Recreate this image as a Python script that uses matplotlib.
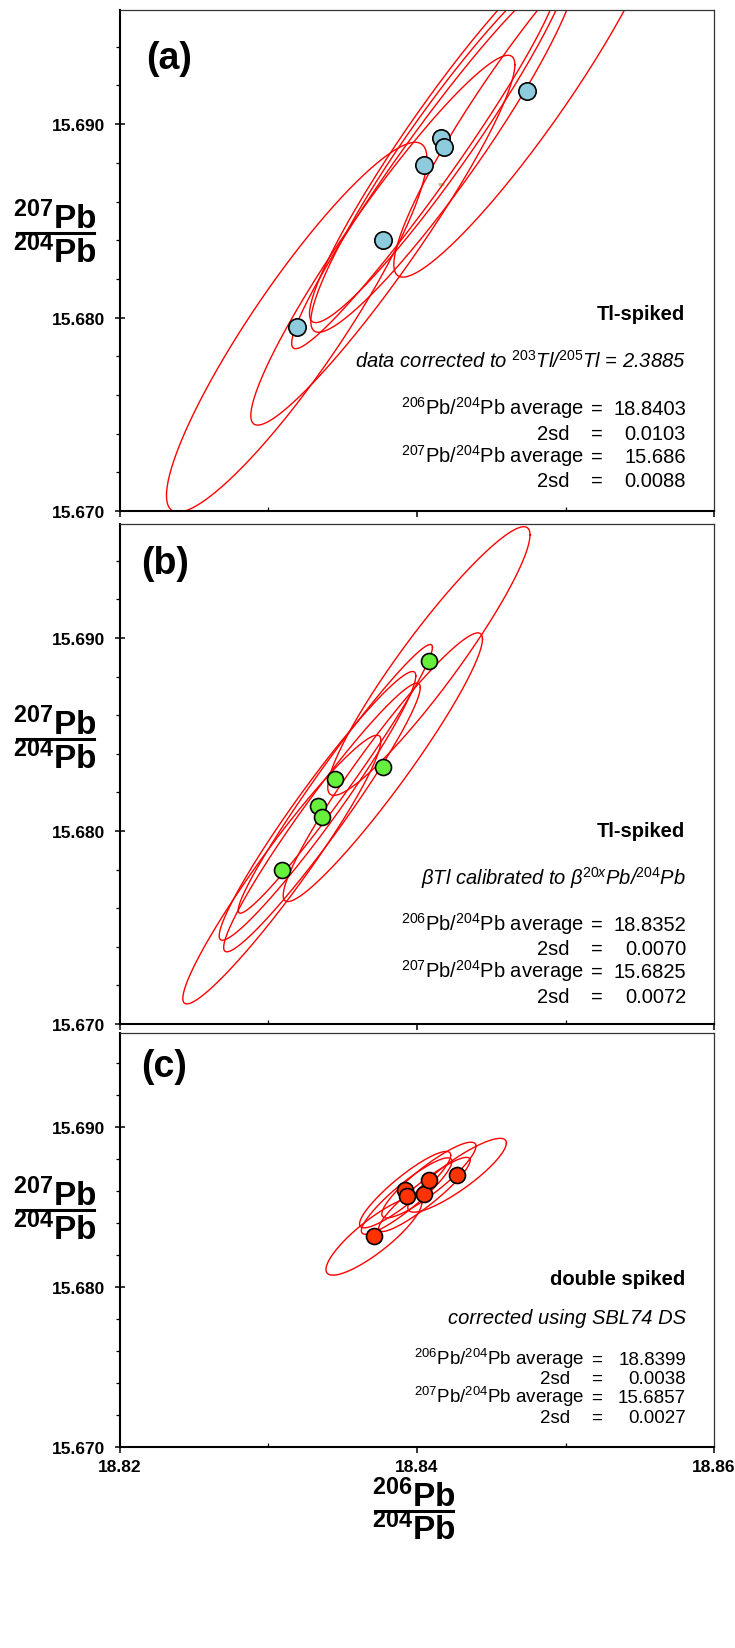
import numpy as np
import matplotlib
matplotlib.use('Agg')
import matplotlib.pyplot as plt
from matplotlib.lines import Line2D
from matplotlib.ticker import MultipleLocator, FixedLocator, FormatStrFormatter

plt.rcParams['font.family'] = ['Liberation Sans', 'DejaVu Sans']
plt.rcParams['font.weight'] = 'bold'
plt.rcParams['mathtext.fontset'] = 'custom'
plt.rcParams['mathtext.rm'] = 'Liberation Sans:weight=normal'
plt.rcParams['mathtext.it'] = 'Liberation Sans:style=italic:weight=normal'
plt.rcParams['mathtext.bf'] = 'Liberation Sans:weight=bold'

# ---- data: 206Pb/204Pb (x), 207Pb/204Pb (y), 2s errors and error correlation ----
# (a) Tl-spiked
a_x = [18.8319, 18.8377, 18.8405, 18.8416, 18.8418, 18.8474]
a_y = [15.6795, 15.6840, 15.6879, 15.6893, 15.6888, 15.6917]
a_sx = [0.00877, 0.00889, 0.00894, 0.00884, 0.00895, 0.00896]
a_sy = [0.00956, 0.00956, 0.00951, 0.00956, 0.00956, 0.00961]
a_rho = [0.910, 0.948, 0.970, 0.952, 0.941, 0.932]

# (b) Tl-spiked, beta calibrated
b_x = [18.8309, 18.8333, 18.8336, 18.8345, 18.8377, 18.8408]
b_y = [15.6780, 15.6813, 15.6807, 15.6827, 15.6833, 15.6888]
b_sx = [0.00667, 0.00662, 0.00662, 0.00654, 0.00671, 0.00681]
b_sy = [0.00696, 0.00696, 0.00696, 0.00696, 0.00696, 0.00696]
b_rho = [0.959, 0.967, 0.967, 0.978, 0.954, 0.939]

# (c) double spiked
c_x = [18.8371, 18.8392, 18.8393, 18.8405, 18.8408, 18.8427]
c_y = [15.6832, 15.6861, 15.6857, 15.6858, 15.6867, 15.6870]
c_sx = [0.00323, 0.00307, 0.00305, 0.00308, 0.00317, 0.00332]
c_sy = [0.00245, 0.00239, 0.00239, 0.00232, 0.00237, 0.00231]
c_rho = [0.854, 0.899, 0.907, 0.919, 0.894, 0.874]

panel_tags = ['(a)', '(b)', '(c)']
titles = ['Tl-spiked', 'Tl-spiked', 'double spiked']
subtitles = [r'data corrected to $^{\mathit{203}}$Tl/$^{\mathit{205}}$Tl = 2.3885',
             r'βTl calibrated to β$^{\mathit{20x}}$Pb/$^{\mathit{204}}$Pb',
             'corrected using SBL74 DS']
x_avg = ['18.8403', '18.8352', '18.8399']
x_2sd = ['0.0103', '0.0070', '0.0038']
y_avg = ['15.686', '15.6825', '15.6857']
y_2sd = ['0.0088', '0.0072', '0.0027']

marker_colors = ['#8ecbdc', '#66f03c', '#ff3300']

W, H = 735, 1649
fig = plt.figure(figsize=(W / 100, H / 100), dpi=100)
fig.patch.set_facecolor('w')


def ftext(x, y, s, **kw):
    fig.text(x / W, 1 - y / H, s, **kw)


def fline(x0, x1, y, lw=2.2):
    fig.add_artist(Line2D([x0 / W, x1 / W], [1 - y / H, 1 - y / H],
                          transform=fig.transFigure, color='k', lw=lw))


# axes boxes in pixels: (top, bottom)
boxes = [(11, 512), (525, 1025), (1034, 1448)]
left_px, right_px = 120, 714

datasets = [(a_x, a_y, a_sx, a_sy, a_rho),
            (b_x, b_y, b_sx, b_sy, b_rho),
            (c_x, c_y, c_sx, c_sy, c_rho)]
msizes = [12.5, 11.5, 11.5]

# text layout per panel (baselines in px)
tag_pos = [(169, 59), (165, 564), (164, 1067)]
text_rows = [[320, 368, 415, 440, 463, 487],
             [837, 885, 931, 955, 978, 1003],
             [1285, 1324, 1365, 1384, 1403, 1423]]
row_size = [14.5, 14.5, 13.5]
ylabel_line = [234, 740, 1211]

t = np.linspace(0, 2 * np.pi, 300)
axes = []
for i, (top, bot) in enumerate(boxes):
    ax = fig.add_axes([left_px / W, 1 - bot / H, (right_px - left_px) / W, (bot - top) / H])
    axes.append(ax)
    xs, ys, sxs, sys_, rhos = datasets[i]
    for cx, cy, sx, sy, r in zip(xs, ys, sxs, sys_, rhos):
        ex = cx + sx * np.cos(t)
        ey = cy + sy * (r * np.cos(t) + np.sqrt(1 - r * r) * np.sin(t))
        ax.plot(ex, ey, color='#ff0000', lw=1.0, zorder=2)
    ax.plot(xs, ys, 'o', ms=msizes[i], mfc=marker_colors[i], mec='k', mew=1.2, zorder=3)

    ax.set_xlim(18.82, 18.86)
    ax.set_ylim(15.670, 15.6959)
    ax.xaxis.set_major_locator(FixedLocator([18.82, 18.84, 18.86]))
    ax.xaxis.set_minor_locator(FixedLocator([18.83, 18.85]))
    ax.yaxis.set_major_locator(MultipleLocator(0.01))
    ax.yaxis.set_minor_locator(MultipleLocator(0.002))
    ax.yaxis.set_major_formatter(FormatStrFormatter('%.3f'))
    ax.tick_params(axis='y', which='major', direction='inout', length=6.5, width=1.1,
                   pad=7.5, labelsize=12.5)
    ax.tick_params(axis='y', which='minor', direction='out', length=3, width=0.9)
    ax.tick_params(axis='x', which='major', direction='out', length=4.5, width=1.1,
                   pad=4.3, labelsize=12.5, labelbottom=(i == 2))
    ax.tick_params(axis='x', which='minor', direction='in', length=3, width=0.9)
    for s in ['left', 'bottom']:
        ax.spines[s].set_linewidth(1.5)
    for s in ['top', 'right']:
        ax.spines[s].set_linewidth(0.9)
        ax.spines[s].set_color('#333333')

    # panel tag
    ftext(tag_pos[i][0], tag_pos[i][1], panel_tags[i], fontsize=27, weight='bold',
          ha='center', va='center')

    # annotation block
    rows = text_rows[i]
    fs = row_size[i]
    ftext(685, rows[0], titles[i], fontsize=14.5, weight='bold', ha='right', va='baseline')
    ftext(686, rows[1], subtitles[i], fontsize=14.5, weight='normal', style='italic',
          ha='right', va='baseline')
    lab206 = r'$^{\mathrm{206}}$Pb/$^{\mathrm{204}}$Pb average'
    lab207 = r'$^{\mathrm{207}}$Pb/$^{\mathrm{204}}$Pb average'
    for row, lab, lab_x, val in [(rows[2], lab206, 584, x_avg[i]),
                                 (rows[3], '2sd', 570, x_2sd[i]),
                                 (rows[4], lab207, 584, y_avg[i]),
                                 (rows[5], '2sd', 570, y_2sd[i])]:
        ftext(lab_x, row, lab, fontsize=fs, weight='normal', ha='right', va='baseline')
        ftext(597, row, '=', fontsize=fs, weight='normal', ha='center', va='baseline')
        ftext(686, row, val, fontsize=fs, weight='normal', ha='right', va='baseline')

    # y axis label as a stacked ratio
    ly = ylabel_line[i]
    ftext(55, ly - 5, r'$^{\mathbf{207}}$Pb', fontsize=24, weight='bold', ha='center', va='baseline')
    fline(16.5, 94, ly)
    ftext(55, ly + 29, r'$^{\mathbf{204}}$Pb', fontsize=24, weight='bold', ha='center', va='baseline')

# stray marker seen in panel (a)
axes[0].plot([18.8416], [15.6869], marker='_', ms=5, color='#a8d08d', mew=2, zorder=1)

# x axis label
xl = 1512
ftext(414, xl - 5, r'$^{\mathbf{206}}$Pb', fontsize=24, weight='bold', ha='center', va='baseline')
fline(375, 453, xl)
ftext(414, xl + 28, r'$^{\mathbf{204}}$Pb', fontsize=24, weight='bold', ha='center', va='baseline')

fig.savefig('out.png', dpi=100, facecolor='w')
